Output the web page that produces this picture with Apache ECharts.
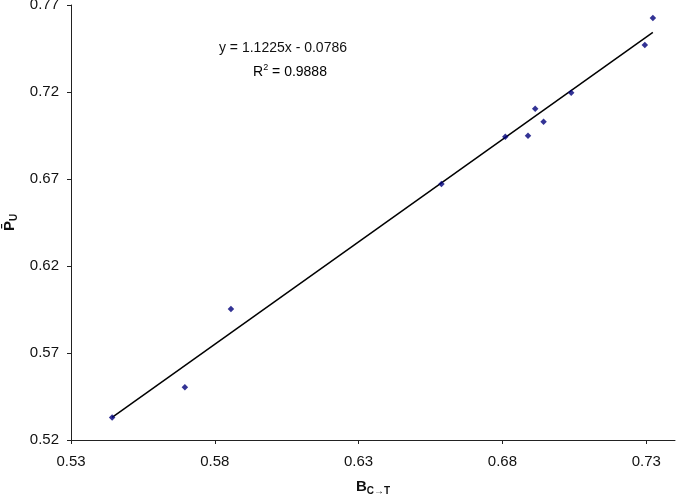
<!DOCTYPE html>
<html>
<head>
<meta charset="utf-8">
<script src="https://cdn.jsdelivr.net/npm/echarts@6/dist/echarts.min.js"></script>
<style>
  html, body { margin: 0; padding: 0; background: #fff; }
  #chart { width: 677px; height: 499px; }
</style>
</head>
<body>
<div id="chart"></div>
<script>
var bValues = [0.5443, 0.5696, 0.5856, 0.6588, 0.6810, 0.6889, 0.6914, 0.6943, 0.7039, 0.7295, 0.7323];
var pValues = [0.5330, 0.5503, 0.5953, 0.6671, 0.6943, 0.6949, 0.7104, 0.7029, 0.7196, 0.7470, 0.7625];
// fitted line ends as drawn in the figure
var trendX = [0.5443, 0.7323];
var trendY = [0.5330, 0.7543];
var xTicks = [0.53, 0.58, 0.63, 0.68, 0.73];

var font = 'Liberation Sans, Arial, sans-serif';
var myChart = echarts.init(document.getElementById('chart'));

myChart.setOption({
  animation: false,
  grid: { left: 71, right: 2, top: 5, bottom: 59, outerBoundsMode: 'none', containLabel: false },
  xAxis: {
    type: 'value',
    min: 0.53,
    max: 0.74,
    name: '{b|B}{sub|C\u2192T}',
    nameLocation: 'middle',
    nameGap: 37,
    nameTextStyle: {
      rich: {
        b: { fontFamily: font, fontSize: 15, fontWeight: 'bold', color: '#111' },
        sub: { fontFamily: font, fontSize: 10, fontWeight: 'bold', color: '#111', padding: [9, 0, 0, 0] }
      }
    },
    axisLine: { lineStyle: { color: '#222', width: 1 } },
    axisTick: { customValues: xTicks, length: 4, lineStyle: { color: '#222' } },
    axisLabel: {
      customValues: xTicks,
      margin: 14,
      color: '#111',
      fontFamily: font,
      fontSize: 15,
      formatter: function (v) { return v.toFixed(2); }
    },
    splitLine: { show: false }
  },
  yAxis: {
    type: 'value',
    min: 0.52,
    max: 0.77,
    interval: 0.05,
    name: '{b|P\u0304}{sub|U}',
    nameLocation: 'middle',
    nameRotate: 90,
    nameGap: 52,
    nameTextStyle: {
      rich: {
        b: { fontFamily: font, fontSize: 15, fontWeight: 'bold', color: '#111' },
        sub: { fontFamily: font, fontSize: 10, fontWeight: 'bold', color: '#111', padding: [9, 0, 0, 0] }
      }
    },
    axisLine: { show: true, lineStyle: { color: '#222', width: 1 } },
    axisTick: { show: true, length: 4, lineStyle: { color: '#222' } },
    axisLabel: {
      margin: 12,
      color: '#111',
      fontFamily: font,
      fontSize: 15,
      formatter: function (v) { return v.toFixed(2); }
    },
    splitLine: { show: false }
  },
  graphic: [
    {
      type: 'text', x: 283, y: 48,
      style: { text: 'y = 1.1225x - 0.0786', font: '14px ' + font, fill: '#111', align: 'center', verticalAlign: 'middle' }
    },
    {
      type: 'text', x: 290, y: 72,
      style: {
        text: '{n|R}{s|2}{n| = 0.9888}',
        align: 'center',
        verticalAlign: 'middle',
        rich: {
          n: { fontFamily: font, fontSize: 14, color: '#111' },
          s: { fontFamily: font, fontSize: 9, color: '#111', padding: [0, 0, 8, 0] }
        }
      }
    }
  ],
  series: [
    {
      type: 'line',
      data: trendX.map(function (x, i) { return [x, trendY[i]]; }),
      symbol: 'none',
      lineStyle: { color: '#000', width: 1.5 },
      silent: true,
      z: 2
    },
    {
      type: 'scatter',
      data: bValues.map(function (x, i) { return [x, pValues[i]]; }),
      symbol: 'diamond',
      symbolSize: 6.5,
      itemStyle: { color: '#00007a' },
      z: 3
    }
  ]
});
</script>
</body>
</html>
